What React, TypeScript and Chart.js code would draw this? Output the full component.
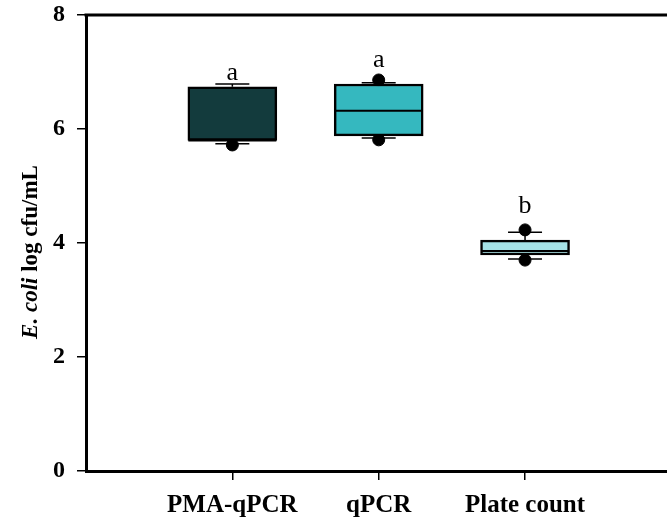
import React, { useEffect, useRef } from "react";
import { Chart, registerables } from "chart.js";

Chart.register(...registerables);

const categories = ["PMA-qPCR", "qPCR", "Plate count"];
const q1 = [5.8, 5.88, 3.79];
const q3 = [6.74, 6.79, 4.05];
const medians = [5.8, 6.32, 3.86];
const whiskerLow = [5.74, 5.84, 3.72];
const whiskerHigh = [6.79, 6.81, 4.19];
const outlierX = [1, 2, 2, 3, 3];
const outlierY = [5.72, 6.86, 5.81, 4.23, 3.7];
const letters = ["a", "a", "b"];
const letterY = [6.86, 7.09, 4.53];
const boxColors = ["#133B3D", "#35B8BF", "#A5E2E6"];
const yTicks = [0, 2, 4, 6, 8];

const SERIF = "'Liberation Serif', 'DejaVu Serif', serif";

const boxPlugin = {
  id: "boxExtras",
  beforeDatasetsDraw(chart: any) {
    const { ctx, scales } = chart;
    const xs = scales.x;
    const ys = scales.y;
    ctx.save();
    ctx.strokeStyle = "#000";
    ctx.lineWidth = 1.5;
    categories.forEach((_, i) => {
      const cx = xs.getPixelForValue(i + 1);
      const half = 17;
      const yl = ys.getPixelForValue(whiskerLow[i]);
      const yh = ys.getPixelForValue(whiskerHigh[i]);
      const yq1 = ys.getPixelForValue(q1[i]);
      const yq3 = ys.getPixelForValue(q3[i]);
      ctx.beginPath();
      ctx.moveTo(cx, yq1);
      ctx.lineTo(cx, yl);
      ctx.moveTo(cx - half, yl);
      ctx.lineTo(cx + half, yl);
      ctx.moveTo(cx, yq3);
      ctx.lineTo(cx, yh);
      ctx.moveTo(cx - half, yh);
      ctx.lineTo(cx + half, yh);
      ctx.stroke();
    });
    ctx.restore();
  },
  afterDatasetsDraw(chart: any) {
    const { ctx, scales, chartArea } = chart;
    const xs = scales.x;
    const ys = scales.y;
    ctx.save();
    ctx.strokeStyle = "#000";
    ctx.lineWidth = 2;
    categories.forEach((_, i) => {
      const cx = xs.getPixelForValue(i + 1);
      const ym = ys.getPixelForValue(medians[i]);
      ctx.beginPath();
      ctx.moveTo(cx - 44, ym);
      ctx.lineTo(cx + 44, ym);
      ctx.stroke();
    });
    ctx.fillStyle = "#000";
    ctx.font = `26px ${SERIF}`;
    ctx.textAlign = "center";
    ctx.textBaseline = "alphabetic";
    letters.forEach((t, i) => {
      ctx.fillText(t, xs.getPixelForValue(i + 1), ys.getPixelForValue(letterY[i]));
    });
    ctx.lineWidth = 3;
    ctx.beginPath();
    ctx.moveTo(chartArea.left - 1.5, chartArea.top);
    ctx.lineTo(chartArea.right, chartArea.top);
    ctx.stroke();
    ctx.translate(31, 252);
    ctx.rotate(-Math.PI / 2);
    const part1 = "E. coli";
    const part2 = " log cfu/mL";
    const f1 = `italic bold 23px ${SERIF}`;
    const f2 = `bold 23px ${SERIF}`;
    ctx.font = f1;
    const w1 = ctx.measureText(part1).width;
    ctx.font = f2;
    const w2 = ctx.measureText(part2).width;
    const start = -(w1 + w2) / 2;
    ctx.textAlign = "left";
    ctx.textBaseline = "middle";
    ctx.font = f1;
    ctx.fillText(part1, start, 0);
    ctx.font = f2;
    ctx.fillText(part2, start + w1, 0);
    ctx.restore();
  },
};

export default function App() {
  const ref = useRef<HTMLCanvasElement>(null);
  useEffect(() => {
    if (!ref.current) return;
    const chart = new Chart(ref.current, {
      type: "bar",
      data: {
        datasets: [
          {
            type: "bar",
            data: categories.map((_, i) => ({ x: i + 1, y: [q1[i], q3[i]] })) as any,
            backgroundColor: boxColors,
            borderColor: "#000",
            borderWidth: 2.5,
            borderSkipped: false,
            barThickness: 89,
            order: 0,
          } as any,
          {
            type: "scatter",
            data: outlierX.map((x, i) => ({ x, y: outlierY[i] })),
            backgroundColor: "#000",
            borderColor: "#000",
            pointRadius: 6,
            order: 1,
          } as any,
        ],
      },
      options: {
        responsive: false,
        animation: false,
        layout: { autoPadding: false, padding: { top: 15, right: 0, left: 0, bottom: 0 } },
        plugins: { legend: { display: false }, tooltip: { enabled: false } },
        scales: {
          x: {
            type: "linear",
            min: 0,
            max: 3.97,
            offset: false,
            afterBuildTicks: (scale: any) => {
              scale.ticks = categories.map((_, i) => ({ value: i + 1 }));
            },
            afterFit: (scale: any) => {
              scale.height = 51;
              scale.paddingRight = 0;
              scale.paddingLeft = 0;
              scale.paddingTop = 0;
              scale.paddingBottom = 0;
            },
            ticks: {
              autoSkip: false,
              maxRotation: 0,
              padding: 11,
              color: "#000",
              font: { family: SERIF, size: 25, weight: "bold" },
              callback: (v: any) => categories[Math.round(v) - 1] ?? "",
            },
            grid: { offset: false, drawOnChartArea: false, drawTicks: true, tickLength: 9, color: "#000", lineWidth: 1.5 },
            border: { display: true, color: "#000", width: 3 },
          },
          y: {
            type: "linear",
            min: 0,
            max: 8,
            afterBuildTicks: (scale: any) => {
              scale.ticks = yTicks.map((v) => ({ value: v }));
            },
            afterFit: (scale: any) => {
              scale.width = 86;
              scale.paddingTop = 0;
              scale.paddingBottom = 0;
              scale.paddingLeft = 0;
              scale.paddingRight = 0;
            },
            ticks: {
              padding: 12,
              color: "#000",
              font: { family: SERIF, size: 24, weight: "bold" },
            },
            grid: { drawOnChartArea: false, drawTicks: true, tickLength: 9, color: "#000", lineWidth: 1.5 },
            border: { display: true, color: "#000", width: 3 },
          },
        },
      } as any,
      plugins: [boxPlugin],
    });
    return () => chart.destroy();
  }, []);
  return (
    <div style={{ position: "fixed", left: 0, top: 0, width: 667, height: 522, background: "#fff" }}>
      <canvas ref={ref} width={667} height={522} />
    </div>
  );
}
